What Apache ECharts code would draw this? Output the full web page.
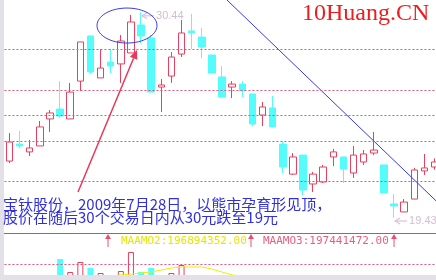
<!DOCTYPE html>
<html><head><meta charset="utf-8">
<script src="https://cdn.jsdelivr.net/npm/echarts@6.0.0/dist/echarts.min.js"></script>
<style>html,body{margin:0;padding:0;background:#fff;overflow:hidden}#c{width:436px;height:280px}</style>
</head><body><div id="c"></div>
<script>
// ---------- data ----------
const dates = ['2009-07-09','2009-07-10','2009-07-13','2009-07-14','2009-07-15','2009-07-16','2009-07-17','2009-07-20','2009-07-21','2009-07-22','2009-07-23','2009-07-24','2009-07-27','2009-07-28','2009-07-29','2009-07-30','2009-07-31','2009-08-03','2009-08-04','2009-08-05','2009-08-06','2009-08-07','2009-08-10','2009-08-11','2009-08-12','2009-08-13','2009-08-14','2009-08-17','2009-08-18','2009-08-19','2009-08-20','2009-08-21','2009-08-24','2009-08-25','2009-08-26','2009-08-27','2009-08-28','2009-08-31','2009-09-01','2009-09-02','2009-09-03','2009-09-04','2009-09-07'];
const opens  = [22.46,23.37,22.95,23.27,24.72,25.25,24.72,26.75,29.17,26.92,27.77,27.67,28.26,29.76,29.06,26.43,27.02,28.20,29.44,29.11,28.15,26.97,26.43,26.59,26.06,24.93,25.31,23.37,21.76,22.78,21.23,21.34,22.68,22.68,21.82,22.41,22.89,22.25,20.16,19.73,20.42,21.93,22.14];
const closes = [23.48,23.27,23.16,24.29,25.04,24.88,26.16,28.85,27.24,27.45,27.56,28.90,29.92,29.17,26.16,26.54,28.04,29.33,29.33,28.58,27.18,25.90,26.59,26.22,24.45,25.36,24.29,22.14,22.68,20.91,21.76,22.14,22.95,22.03,22.78,22.84,23.05,20.75,20.05,20.26,21.98,22.09,22.41];
const lows   = [22.35,23.16,22.73,23.27,24.02,24.77,24.72,26.22,27.13,26.92,27.18,26.65,28.26,28.79,26.16,25.09,26.65,28.04,28.47,27.99,27.18,25.85,25.84,25.90,24.34,24.34,24.29,21.82,21.71,20.64,20.80,21.28,22.19,21.28,21.55,22.25,22.78,20.75,19.43,19.73,20.42,21.71,22.00];
const highs  = [23.96,24.07,23.59,24.61,25.20,26.75,26.65,28.85,29.17,28.47,28.47,29.22,30.30,30.44,29.22,26.86,28.31,30.03,30.35,29.60,28.15,27.56,26.75,26.75,26.06,25.63,25.95,23.48,22.89,22.78,21.87,22.25,23.11,22.68,23.27,23.05,24.02,22.25,20.69,20.42,22.09,22.84,22.60];
const volumes = [30,32,30,34,39,55,42,52,46,41,36,43,62,42,46,37,41,49,38,36,35,38,30,28,36,30,32,37,30,38,28,27,29,30,31,27,28,36,33,26,35,27,26];
const volMA   = [33,33,34,34,35,35,36,36,37,37,38,39,40,41,42,44,46,47,47,47,45,42,39,38,37,36,35,34,33,33,32,32,31,31,30,30,30,29,29,29,28,28,28];
const priceLevels = [28.47, 26.27, 24.93, 23.54, 21.39];
const volLevels = [50];
const trendLinePts = [[21.49, 31.1], [42.5, 20.14]];   // x = trading-day index
const ellipseCenter = [11.61, 29.73];
const arrowFrom = [6.77, 20.80];
const arrowTo = [12.60, 28.42];
const noteLines = ['宝钛股份，2009年7月28日，以熊市孕育形见顶，', '股价在随后30个交易日内从30元跌至19元'];
const indicatorLabels = ['MAAMO2:196894352.00', 'MAAMO3:197441472.00'];
const watermark = '10Huang.CN';

// ---------- chart ----------
const upColor = '#e8405e', downColor = '#54fcfc';
const isUp = opens.map((o, i) => closes[i] >= o);
const N = dates.length;
const GL = 4.44, GW = 435.2;
const chart = echarts.init(document.getElementById('c'), null, {renderer: 'canvas'});
const dotted = {type: [2, 2], color: '#e8507a', width: 1};

chart.setOption({
  animation: false,
  backgroundColor: '#ffffff',
  grid: [
    {left: GL, top: 0, width: GW, height: 233, outerBoundsMode: 'none', containLabel: false},
    {left: GL, top: 234, width: GW, height: 80, outerBoundsMode: 'none', containLabel: false}
  ],
  xAxis: [
    {type: 'category', gridIndex: 0, data: dates, boundaryGap: true,
     axisLine: {show: true, onZero: false, lineStyle: {color: '#e8405e', width: 1}},
     axisTick: {show: false}, axisLabel: {show: false}, splitLine: {show: false}},
    {type: 'category', gridIndex: 1, data: dates, boundaryGap: true, show: false},
    {type: 'value', gridIndex: 0, min: -0.5, max: N - 0.5, show: false, splitLine: {show: false}}
  ],
  yAxis: [
    {type: 'value', gridIndex: 0, min: 18.6, max: 31.1, show: false, splitLine: {show: false}},
    {type: 'value', gridIndex: 1, min: 0, max: 80, show: false, splitLine: {show: false}}
  ],
  series: [
    {type: 'candlestick', xAxisIndex: 0, yAxisIndex: 0, barWidth: 7, silent: true,
     data: dates.map((d, i) => [opens[i], closes[i], lows[i], highs[i]]),
     itemStyle: {color: 'transparent', color0: downColor, borderColor: upColor, borderColor0: downColor, borderWidth: 1},
     markLine: {symbol: ['none', 'none'], silent: true, label: {show: false}, lineStyle: dotted,
       data: priceLevels.map(v => ({yAxis: v}))}},
    {type: 'line', xAxisIndex: 2, yAxisIndex: 0, data: trendLinePts, symbol: 'none', silent: true,
     lineStyle: {color: '#3838e6', width: 1}},
    {type: 'bar', xAxisIndex: 1, yAxisIndex: 1, barWidth: 6, silent: true,
     data: volumes.map((v, i) => ({value: v, itemStyle: isUp[i]
        ? {color: 'transparent', borderColor: upColor, borderWidth: 1}
        : {color: downColor}})),
     markLine: {symbol: ['none', 'none'], silent: true, label: {show: false}, lineStyle: dotted,
       data: volLevels.map(v => ({yAxis: v}))}},
    {type: 'line', xAxisIndex: 1, yAxisIndex: 1, data: volMA, symbol: 'none', silent: true,
     lineStyle: {color: '#eeee00', width: 1}}
  ]
});

// ---------- annotations ----------
const px = v => chart.convertToPixel({xAxisIndex: 2}, v);
const py = p => chart.convertToPixel({yAxisIndex: 0}, p);
const cx = i => chart.convertToPixel({xAxisIndex: 0}, dates[i]);
let hiI = 0, loI = 0;
highs.forEach((h, i) => { if (h > highs[hiI]) hiI = i; });
lows.forEach((l, i) => { if (l < lows[loI]) loI = i; });

const ax1 = px(arrowFrom[0]), ay1 = py(arrowFrom[1]);
const ax2 = px(arrowTo[0]), ay2 = py(arrowTo[1]);
const dx = ax2 - ax1, dy = ay2 - ay1, len = Math.hypot(dx, dy);
const ux = dx / len, uy = dy / len, hl = 9, hw = 4;
const bx = ax2 - ux * hl, by = ay2 - uy * hl;

const upArrow = (x) => ({type: 'group', z: 120, children: [
  {type: 'line', shape: {x1: x, y1: 237, x2: x, y2: 247}, style: {stroke: '#e85070', lineWidth: 1}},
  {type: 'polygon', shape: {points: [[x, 234], [x - 3, 239], [x + 3, 239]]}, style: {fill: '#e85070'}}
]});
const extremeLabel = (x, y, value) => ({type: 'group', z: 120, children: [
  {type: 'polyline', shape: {points: [[x + 6, y - 3], [x + 1, y], [x + 6, y + 3]]}, style: {stroke: '#d6c4d6', lineWidth: 1.2, fill: null}},
  {type: 'line', shape: {x1: x + 1, y1: y, x2: x + 13, y2: y}, style: {stroke: '#d6c4d6', lineWidth: 1.2}},
  {type: 'text', x: x + 15, y: y, style: {text: value.toFixed(2), font: '11px "Liberation Sans", "DejaVu Sans"', fill: '#d2bed2', verticalAlign: 'middle'}}
]});

chart.setOption({graphic: [
  {type: 'rect', z: 110, shape: {x: 0, y: 0, width: 4, height: 280}, style: {fill: '#e4e0e8'}},
  {type: 'rect', z: 110, shape: {x: 0, y: 275, width: 436, height: 5}, style: {fill: '#e4e0e8'}},
  {type: 'text', z: 120, x: 302, y: 13.5, style: {text: watermark, font: '24px "Liberation Serif", serif', fill: '#ee1c1c', verticalAlign: 'middle', align: 'left'}},
  {type: 'ellipse', z: 120, shape: {cx: px(ellipseCenter[0]), cy: py(ellipseCenter[1]), rx: 30, ry: 17.5}, style: {fill: 'none', stroke: '#3a3ae6', lineWidth: 1}},
  {type: 'line', z: 120, shape: {x1: ax1, y1: ay1, x2: bx, y2: by}, style: {stroke: '#e8385a', lineWidth: 1.5}},
  {type: 'polygon', z: 120, shape: {points: [[ax2, ay2], [bx - uy * hw, by + ux * hw], [bx + uy * hw, by - ux * hw]]}, style: {fill: '#e8385a'}},
  {type: 'text', z: 120, x: 3, y: 204, style: {text: noteLines[0], font: '15px "Noto Sans CJK SC"', fill: '#3030e0', verticalAlign: 'middle'}},
  {type: 'text', z: 120, x: 3, y: 217.5, style: {text: noteLines[1], font: '15px "Noto Sans CJK SC"', fill: '#3030e0', verticalAlign: 'middle'}},
  extremeLabel(cx(hiI), py(highs[hiI]) + 3.5, highs[hiI]),
  extremeLabel(cx(loI), py(lows[loI]) + 3.5, lows[loI]),
  upArrow(108),
  {type: 'text', z: 120, x: 121, y: 241.5, style: {text: indicatorLabels[0], font: '11px "DejaVu Sans Mono"', fill: '#e6e600', verticalAlign: 'middle'}},
  upArrow(251),
  {type: 'text', z: 120, x: 263, y: 241.5, style: {text: indicatorLabels[1], font: '11px "DejaVu Sans Mono"', fill: '#e86080', verticalAlign: 'middle'}},
  upArrow(394)
]});
</script>
</body></html>
